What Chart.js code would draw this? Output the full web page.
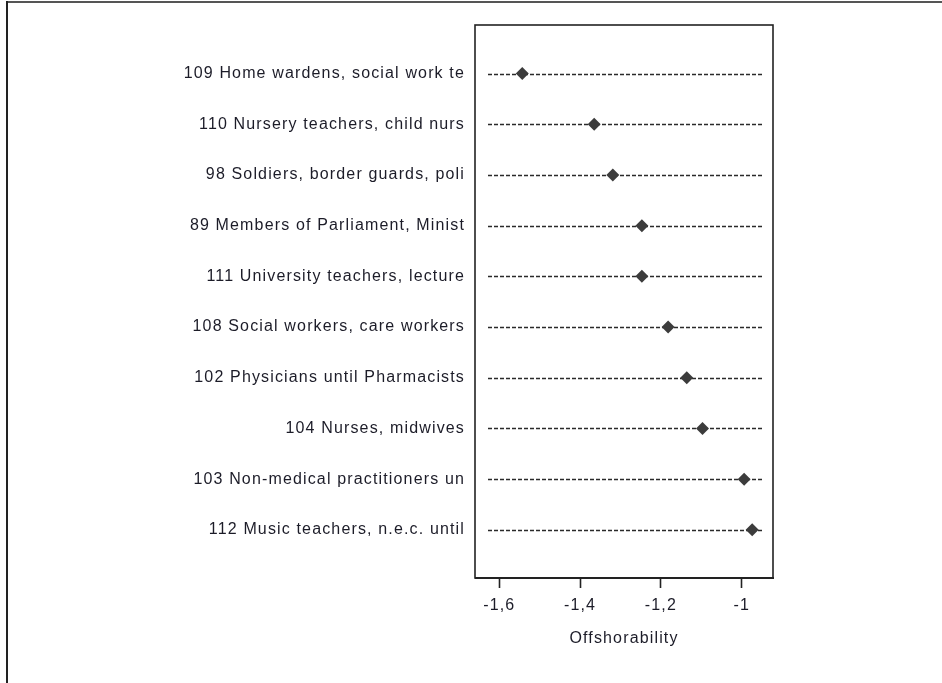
<!DOCTYPE html>
<html>
<head>
<meta charset="utf-8">
<script src="https://cdn.jsdelivr.net/npm/chart.js@4/dist/chart.umd.min.js"></script>
<style>
  html, body { margin: 0; padding: 0; background: #fff; }
  #wrap { position: relative; width: 942px; height: 683px; overflow: hidden; }
  #c { position: absolute; left: 0; top: 0; }
  #topline { position: absolute; left: 6px; top: 1px; width: 936px; height: 2px; background: #555; }
  #leftline { position: absolute; left: 6px; top: 1px; width: 2px; height: 682px; background: #222; }
</style>
</head>
<body>
<div id="wrap">
  <canvas id="c" width="942" height="683"></canvas>
  <div id="topline"></div>
  <div id="leftline"></div>
</div>
<script>
const categories = [
  "109 Home wardens, social work te",
  "110 Nursery teachers, child nurs",
  "98 Soldiers, border guards, poli",
  "89 Members of Parliament, Minist",
  "111 University teachers, lecture",
  "108 Social workers, care workers",
  "102 Physicians until Pharmacists",
  "104 Nurses, midwives",
  "103 Non-medical practitioners un",
  "112 Music teachers, n.e.c. until"
];
const offshorability = [-1.543, -1.365, -1.319, -1.247, -1.247, -1.182, -1.136, -1.097, -0.994, -0.974];
const xTickValues = [-1.6, -1.4, -1.2, -1];
const xTickLabels = ["-1,6", "-1,4", "-1,2", "-1"];

const FONT = { family: "'Liberation Sans', Arial, sans-serif", size: 16 };
const TXT = '#1c1c28';
const SPACING = '1.15px';

const spacingPlugin = {
  id: 'spacing',
  beforeUpdate(chart) { chart.ctx.letterSpacing = SPACING; },
  beforeLayout(chart) { chart.ctx.letterSpacing = SPACING; },
  beforeDraw(chart) { chart.ctx.letterSpacing = SPACING; }
};

const framePlugin = {
  id: 'frame',
  beforeDatasetsDraw(chart) {
    const { ctx, chartArea: a, scales: { y } } = chart;
    ctx.save();
    ctx.strokeStyle = '#2a2a2a';
    ctx.lineWidth = 1.4;
    ctx.setLineDash([4, 2]);
    categories.forEach((_, i) => {
      const py = Math.round(y.getPixelForValue(i)) + 0.5;
      ctx.beginPath();
      ctx.moveTo(a.left + 13, py);
      ctx.lineTo(a.right - 9, py);
      ctx.stroke();
    });
    ctx.setLineDash([]);
    ctx.restore();
  },
  afterDraw(chart) {
    const { ctx, chartArea: a } = chart;
    ctx.save();
    ctx.strokeStyle = '#222';
    ctx.lineWidth = 1.6;
    ctx.strokeRect(a.left, a.top, a.right - a.left, a.bottom - a.top);
    ctx.lineWidth = 2.2;
    ctx.beginPath();
    ctx.moveTo(a.left, a.bottom);
    ctx.lineTo(a.right + 1, a.bottom);
    ctx.stroke();
    ctx.restore();
  }
};

new Chart(document.getElementById('c'), {
  type: 'scatter',
  data: {
    datasets: [{
      data: offshorability.map((v, i) => ({ x: v, y: i })),
      pointStyle: 'rectRot',
      pointRadius: 6.5,
      pointHoverRadius: 6.5,
      backgroundColor: '#3c3c3c',
      borderColor: '#3c3c3c',
      borderWidth: 0
    }]
  },
  options: {
    responsive: false,
    animation: false,
    layout: { padding: { top: 25, right: 169, left: 0, bottom: 0 } },
    plugins: { legend: { display: false }, tooltip: { enabled: false } },
    scales: {
      x: {
        type: 'linear',
        min: -1.66,
        max: -0.9225,
        afterBuildTicks(s) { s.ticks = xTickValues.map(v => ({ value: v })); },
        afterFit(s) { s.height = 105; },
        grid: { drawOnChartArea: false, drawTicks: true, tickLength: 10, color: '#222', tickWidth: 1.6 },
        border: { display: false },
        ticks: {
          font: FONT, color: TXT, padding: 8,
          callback(v) { const i = xTickValues.indexOf(v); return i >= 0 ? xTickLabels[i] : ''; }
        },
        title: { display: true, text: 'Offshorability', font: FONT, color: TXT, padding: { top: 4, bottom: 35 } }
      },
      y: {
        type: 'linear',
        reverse: true,
        min: -0.957,
        max: 9.95,
        afterBuildTicks(s) { s.ticks = categories.map((_, i) => ({ value: i })); },
        afterFit(s) { s.width = 475; },
        grid: { display: false, drawTicks: false },
        border: { display: false },
        ticks: {
          font: FONT, color: TXT, padding: 10,
          callback(v) { return categories[v] || ''; }
        }
      }
    }
  },
  plugins: [spacingPlugin, framePlugin]
});
</script>
</body>
</html>
